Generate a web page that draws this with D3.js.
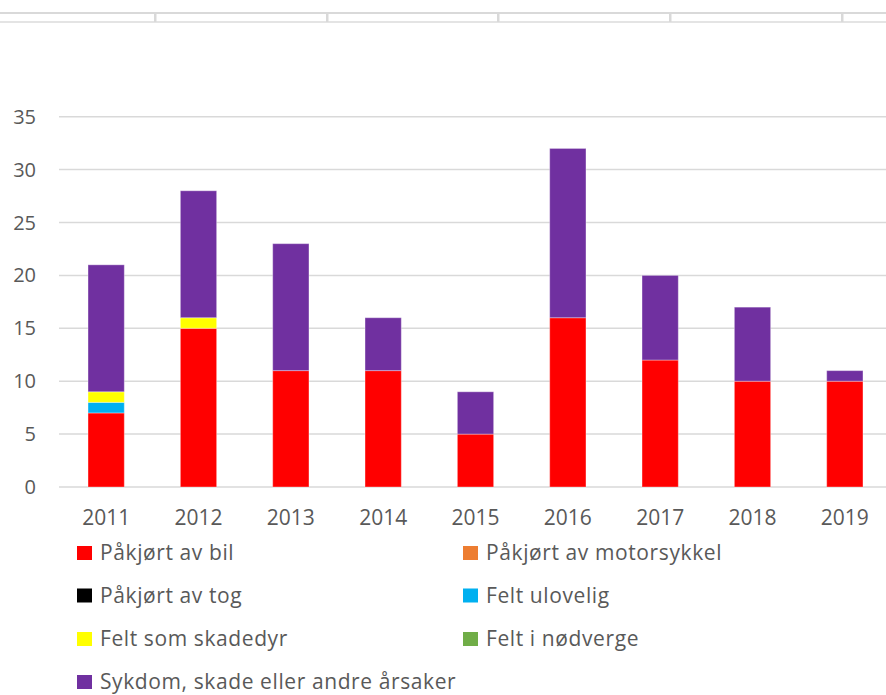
<!DOCTYPE html>
<html>
<head>
<meta charset="utf-8">
<script src="https://cdn.jsdelivr.net/npm/d3@7"></script>
<style>
  html, body { margin: 0; padding: 0; background: #fff; }
  svg { display: block; font-family: "Open Sans", "Noto Sans", sans-serif; }
</style>
</head>
<body>
<div id="chart"></div>
<script>
const years = ["2011", "2012", "2013", "2014", "2015", "2016", "2017", "2018", "2019"];
const seriesNames = [
  "Påkjørt av bil",
  "Påkjørt av motorsykkel",
  "Påkjørt av tog",
  "Felt ulovelig",
  "Felt som skadedyr",
  "Felt i nødverge",
  "Sykdom, skade eller andre årsaker"
];
const seriesColors = ["#ff0000", "#ed7d31", "#000000", "#00b0f0", "#ffff00", "#70ad47", "#7030a0"];

const bil         = [7, 15, 11, 11, 5, 16, 12, 10, 10];
const motorsykkel = [0, 0, 0, 0, 0, 0, 0, 0, 0];
const tog         = [0, 0, 0, 0, 0, 0, 0, 0, 0];
const ulovelig    = [1, 0, 0, 0, 0, 0, 0, 0, 0];
const skadedyr    = [1, 1, 0, 0, 0, 0, 0, 0, 0];
const nodverge    = [0, 0, 0, 0, 0, 0, 0, 0, 0];
const sykdom      = [12, 12, 12, 5, 4, 16, 8, 7, 1];
const yTicks = [0, 5, 10, 15, 20, 25, 30, 35];

const seriesValues = [bil, motorsykkel, tog, ulovelig, skadedyr, nodverge, sykdom];

const width = 886, height = 695;
const svg = d3.select("#chart").append("svg")
  .attr("width", width)
  .attr("height", height);

// table borders at the top
svg.append("rect").attr("x", 0).attr("y", 12).attr("width", width).attr("height", 2).attr("fill", "#d9d9d9");
svg.append("rect").attr("x", 0).attr("y", 21).attr("width", width).attr("height", 2).attr("fill", "#e4e4e4");
[154, 326, 497, 669, 841].forEach(x => {
  svg.append("rect").attr("x", x).attr("y", 12).attr("width", 2.5).attr("height", 10).attr("fill", "#d9d9d9");
});

const x = d3.scaleBand()
  .domain(years)
  .range([60, 891])
  .paddingInner(0.607)
  .paddingOuter(0.3035);

const y = d3.scaleLinear()
  .domain([0, 35])
  .range([487, 116.7]);

// gridlines
svg.append("g")
  .selectAll("line")
  .data(yTicks)
  .enter()
  .append("line")
  .attr("x1", 59)
  .attr("x2", width)
  .attr("y1", d => y(d))
  .attr("y2", d => y(d))
  .attr("stroke", "#d9d9d9")
  .attr("stroke-width", 1.5);

// stacked data
const rows = years.map((yr, i) => {
  const r = { year: yr };
  seriesNames.forEach((s, j) => { r[s] = seriesValues[j][i]; });
  return r;
});
const stack = d3.stack().keys(seriesNames)(rows);

svg.append("g")
  .selectAll("g")
  .data(stack)
  .enter()
  .append("g")
  .attr("fill", (d, i) => seriesColors[i])
  .selectAll("rect")
  .data(d => d.filter(p => p[1] - p[0] > 0))
  .enter()
  .append("rect")
  .attr("x", d => x(d.data.year))
  .attr("y", d => y(d[1]))
  .attr("width", x.bandwidth())
  .attr("height", d => y(d[0]) - y(d[1]))
  .attr("stroke", "#ffffff")
  .attr("stroke-opacity", 0.35)
  .attr("stroke-width", 1);

// y axis labels
svg.append("g")
  .selectAll("text")
  .data(yTicks)
  .enter()
  .append("text")
  .attr("x", 36)
  .attr("y", d => y(d))
  .attr("dy", "0.35em")
  .attr("text-anchor", "end")
  .attr("font-size", 20)
  .attr("fill", "#595959")
  .text(d => d);

// x axis labels
svg.append("g")
  .selectAll("text")
  .data(years)
  .enter()
  .append("text")
  .attr("x", d => x(d) + x.bandwidth() / 2)
  .attr("y", 525)
  .attr("text-anchor", "middle")
  .attr("font-size", 21)
  .attr("fill", "#595959")
  .text(d => d);

// legend
const legendPos = [
  [77, 553], [463, 553],
  [77, 595.5], [463, 595.5],
  [77, 639], [463, 639],
  [77, 682]
];
const legend = svg.append("g")
  .selectAll("g")
  .data(seriesNames)
  .enter()
  .append("g")
  .attr("transform", (d, i) => `translate(${legendPos[i][0]},${legendPos[i][1]})`);

legend.append("rect")
  .attr("x", 0)
  .attr("y", -7)
  .attr("width", 15)
  .attr("height", 14)
  .attr("fill", (d, i) => seriesColors[i]);

legend.append("text")
  .attr("x", 23)
  .attr("y", 0)
  .attr("dy", "0.35em")
  .attr("font-size", 21)
  .attr("letter-spacing", 0.6)
  .attr("fill", "#595959")
  .text(d => d);
</script>
</body>
</html>
